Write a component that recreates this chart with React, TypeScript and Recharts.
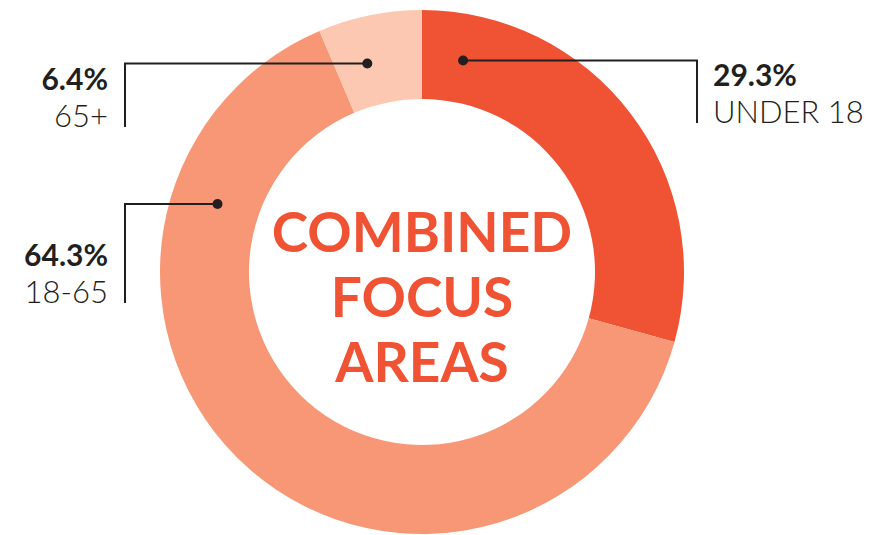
import React from "react"
import { PieChart, Pie, Cell } from "recharts"

// age groups, clockwise from 12 o'clock
const groups = ["UNDER 18", "18-65", "65+"]
const shares = [29.3, 64.3, 6.4]
const colors = ["#F05234", "#F79776", "#FDC8B1"]
const centerTitle = ["COMBINED", "FOCUS", "AREAS"]

const data = groups.map((name, i) => ({ name, value: shares[i] }))

const INK = "#231F20"
const FONT = "Lato, 'Open Sans', sans-serif"

// where each callout sits: dot angle (deg, math style), elbow x, bottom of the drop line
const callouts = [
    { angle: 79, elbowX: 697, dropTo: 123, side: "right" },
    { angle: 161.6, elbowX: 125, dropTo: 303, side: "left" },
    { angle: 104.7, elbowX: 125, dropTo: 127, side: "left" },
]

const RAD = Math.PI / 180

function CenterTitle({ cx, cy }: { cx: number; cy: number }) {
    return (
        <g>
            {centerTitle.map((line, i) => (
                <text
                    key={line}
                    x={cx}
                    y={cy - 20 + i * 65}
                    textAnchor="middle"
                    fontFamily={FONT}
                    fontWeight={700}
                    fontSize={55}
                    fill="#F05234"
                >
                    {line}
                </text>
            ))}
        </g>
    )
}

function Callout(props: any) {
    const { cx, cy, innerRadius, outerRadius, index } = props
    const c = callouts[index]
    const r = (innerRadius + outerRadius) / 2 - 2
    const x = cx + r * Math.cos(c.angle * RAD)
    const y = cy - r * Math.sin(c.angle * RAD)
    const right = c.side === "right"
    const tx = right ? c.elbowX + 16 : c.elbowX - 17
    const anchor = right ? "start" : "end"
    return (
        <g>
            {index === 0 && <CenterTitle cx={cx} cy={cy} />}
            <polyline
                points={`${x},${y} ${c.elbowX},${y} ${c.elbowX},${c.dropTo}`}
                fill="none"
                stroke={INK}
                strokeWidth={2}
            />
            <circle cx={x} cy={y} r={5} fill={INK} />
            <text x={tx} y={c.dropTo - 37} textAnchor={anchor} fontFamily={FONT} fontWeight={700} fontSize={30} fill={INK}>
                {shares[index]}%
            </text>
            <text x={tx} y={c.dropTo} textAnchor={anchor} fontFamily={FONT} fontWeight={300} fontSize={31} fill={INK}>
                {groups[index]}
            </text>
        </g>
    )
}

export default function App() {
    return (
        <div style={{ position: "absolute", left: 0, top: 0, background: "#fff" }}>
            <PieChart width={869} height={535} margin={{ top: 0, right: 0, bottom: 0, left: 0 }}>
                <Pie
                    data={data}
                    dataKey="value"
                    cx={422}
                    cy={272}
                    outerRadius={262}
                    innerRadius={173}
                    startAngle={90}
                    endAngle={-270}
                    stroke="none"
                    label={Callout}
                    labelLine={false}
                    isAnimationActive={false}
                >
                    {data.map((d, i) => (
                        <Cell key={d.name} fill={colors[i]} />
                    ))}
                </Pie>
            </PieChart>
        </div>
    )
}
